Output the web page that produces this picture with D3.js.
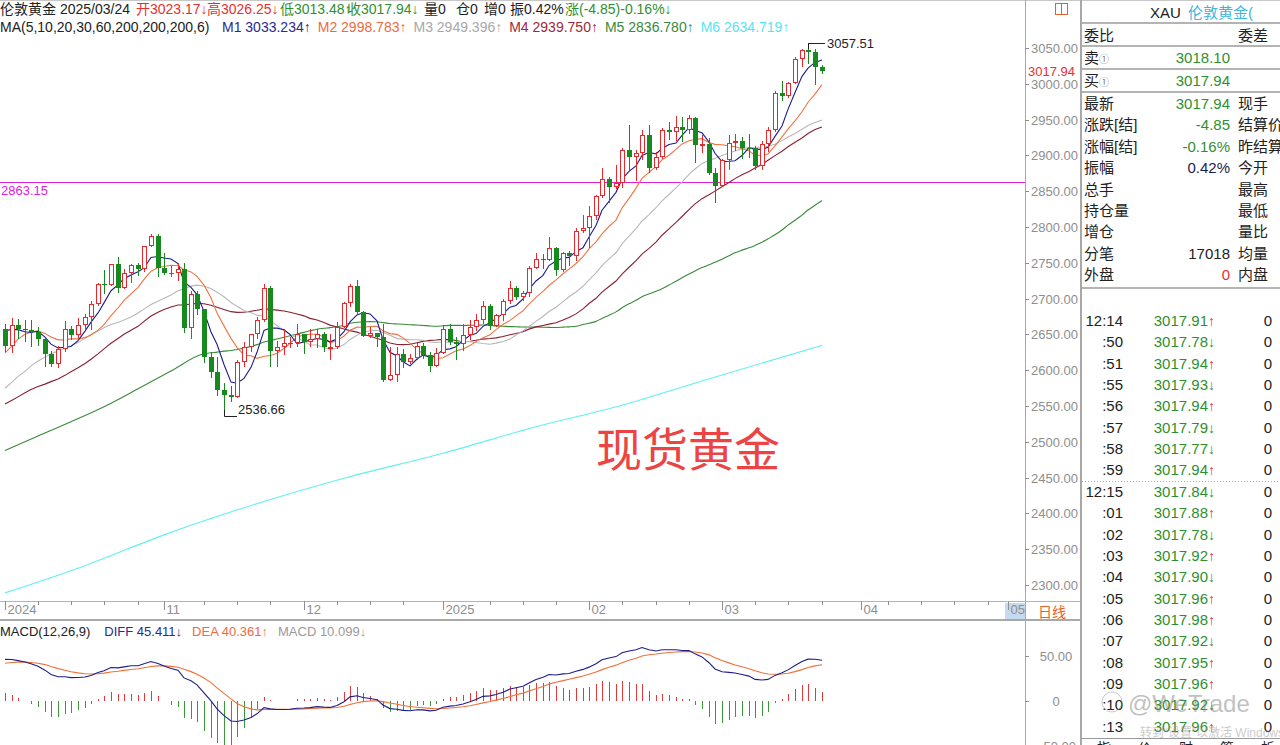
<!DOCTYPE html>
<html>
<head>
<meta charset="utf-8">
<script src="https://cdn.jsdelivr.net/npm/d3@7"></script>
<style>
  html, body { margin: 0; padding: 0; background: #fff; overflow: hidden; }
  svg { display: block; font-family: "Liberation Sans", Arial, "Noto Sans CJK SC", sans-serif; }
</style>
</head>
<body>
<svg id="chart" width="1280" height="745"></svg>
<script>
// ---- Daily bars, London gold (XAU), 2024-09-30 .. 2025-03-24 ----
const openP = [2658,2634,2663,2657,2656,2653,2643,2622,2608,2630,2657,2649,2663,2674,2693,2721,2719,2748,2715,2736,
  2747,2742,2774,2788,2743,2736,2736,2742,2659,2706,2685,2619,2598,2573,2565,2562,2611,2632,2650,2670,
  2715,2627,2632,2638,2638,2650,2640,2643,2650,2632,2633,2660,2694,2718,2681,2648,2652,2646,2586,2593,
  2622,2612,2617,2634,2621,2606,2624,2658,2640,2636,2649,2661,2670,2690,2662,2677,2696,2715,2702,2708,
  2743,2755,2754,2771,2740,2763,2760,2794,2798,2815,2843,2867,2856,2861,2907,2898,2904,2929,2882,2898,
  2935,2932,2939,2936,2951.58,2915,2916,2875,2857,2893,2918,2920,2911,2910,2885.09,2916,2935,2987,2982.66,3001,
  3034,3047.44,3044,3023.17];
const highP = [2665,2673,2672,2670,2670,2660,2645,2627,2634,2669,2662,2673,2678,2697,2722,2740,2749,2758,2741,2749,
  2750,2774,2790,2790,2763,2746,2750,2750,2711,2710,2686,2625,2618,2582,2578,2614,2639,2651,2674,2721,
  2718,2641,2657,2647,2665,2651,2657,2657,2654,2651,2667,2695,2721,2726,2683,2660,2652,2664,2632,2632,
  2629,2622,2638,2638,2626,2631,2663,2665,2646,2664,2670,2678,2697,2692,2679,2700,2725,2717,2711,2746,
  2763,2762,2786,2772,2765,2767,2799,2817,2830,2845,2882,2870,2886,2911,2942,2908,2936,2942,2905,2938,
  2947,2955,2954,2956,2953,2929,2924,2882,2895,2928,2930,2926,2930,2913,2920,2940,2990,3004,3003,3038,
  3049,3057.51,3048,3026.25];
const lowP = [2625,2624,2644,2640,2633,2634,2605,2604,2603,2625,2642,2645,2657,2656,2690,2707,2718,2708,2714,2722,
  2732,2737,2772,2730,2733,2730,2725,2652,2643,2677,2610,2589,2564,2536.66,2555,2561,2605,2625,2644,2667,
  2605,2604,2621,2631,2633,2622,2632,2631,2625,2614,2630,2659,2688,2678,2647,2645,2632,2583,2585,2583,
  2603,2608,2614,2615,2597,2605,2622,2635,2614,2627,2642,2655,2664,2656,2660,2669,2693,2698,2697,2702,
  2741,2742,2752,2731,2737,2745,2752,2791,2771,2810,2840,2834,2853,2855,2880,2864,2894,2876,2880,2895,
  2922,2920,2919,2930,2890,2903,2873,2833,2856,2880,2906,2895,2896,2880,2880,2905,2933,2976,2980,3000,
  3024,3028,2999,3013.48];
const closeP = [2634,2663,2657,2656,2653,2643,2622,2608,2630,2657,2649,2663,2674,2693,2721,2719,2748,2715,2736,2747,
  2742,2774,2788,2743,2736,2736,2742,2659,2706,2685,2619,2598,2573,2565,2562,2611,2632,2650,2670,2715,
  2627,2632,2638,2638,2650,2640,2643,2650,2632,2633,2660,2694,2718,2681,2648,2652,2646,2586,2593,2622,
  2612,2617,2634,2621,2606,2624,2658,2640,2636,2649,2661,2670,2690,2662,2677,2696,2715,2702,2708,2743,
  2755,2754,2771,2740,2763,2760,2794,2798,2815,2843,2867,2856,2861,2907,2898,2904,2929,2882,2898,2935,
  2932,2939,2936,2951.58,2915,2916,2875,2857,2893,2918,2920,2911,2910,2885.09,2916,2935,2987,2982.66,3001,3034,
  3047.44,3044,3022.79,3017.94];

// closes of the 29 sessions before the first bar (2024-08-20 .. 2024-09-27), used by the moving averages
const priorCloses = [2514,2512,2485,2512,2518,2524,2504,2521,2503,2500,2493,2495,2517,2497,2506,2516,2512,2558,2577,
  2582,2569,2559,2587,2622,2628,2657,2657,2671,2658];

// MA60 before enough history is on the page, and the MA200 line
const ma60LeadIdx = [0, 5, 10, 15, 20, 25];
const ma60LeadVal = [2488, 2508, 2528, 2549, 2574, 2599];
const ma200Idx = [0, 12, 24, 51, 66, 80, 93, 105, 123];
const ma200Val = [2289, 2327, 2370, 2449, 2484, 2521, 2551, 2585, 2634.719];

// MACD(12,26,9) state at the first bar: EMA12, EMA26, DEA
const macdSeed = [2623.3, 2577.0, 42.0];

const priceTicks = [3050,3000,2950,2900,2850,2800,2750,2700,2650,2600,2550,2500,2450,2400,2350,2300];
const macdTicks = [50, 0, -50];
const markLine = 2863.15;
const lastPrice = 3017.94;

const firstSession = new Date(2024, 8, 30);
const closedDays = ["2024-12-25", "2025-01-01"];

// header text
const headLine1 = ["伦敦黄金 2025/03/24", "开3023.17↓", "高3026.25↓", "低3013.48↑", "收3017.94↓", "量0", "仓0", "增0", "振0.42%", "涨(-4.85)-0.16%↓"];
const headLine2 = ["MA(5,10,20,30,60,200,200,200,6)", "M1 3033.234↑", "M2 2998.783↑", "M3 2949.396↑", "M4 2939.750↑", "M5 2836.780↑", "M6 2634.719↑"];
const macdHead = ["MACD(12,26,9)", "DIFF 45.411↓", "DEA 40.361↑", "MACD 10.099↓"];

// quote panel
const quoteLabels = ["最新", "涨跌[结]", "涨幅[结]", "振幅", "总手", "持仓量", "增仓", "分笔", "外盘"];
const quoteValues = ["3017.94", "-4.85", "-0.16%", "0.42%", "", "", "", "17018", "0"];
const quoteRight = ["现手", "结算价", "昨结算", "今开", "最高", "最低", "量比", "均量", "内盘"];
const askBid = [["卖", "3018.10"], ["买", "3017.94"]];
const tickTimes = ["12:14", ":50", ":51", ":55", ":56", ":57", ":58", ":59", "12:15", ":01", ":02", ":03", ":04", ":05", ":06", ":07", ":08", ":09", ":10", ":13"];
const tickPrices = [3017.91, 3017.78, 3017.94, 3017.93, 3017.94, 3017.79, 3017.77, 3017.94, 3017.84, 3017.88, 3017.78, 3017.92, 3017.90, 3017.96, 3017.98, 3017.92, 3017.95, 3017.96, 3017.92, 3017.96];
const tickDirs = ["↑", "↓", "↑", "↓", "↑", "↓", "↓", "↑", "↓", "↑", "↓", "↑", "↓", "↑", "↑", "↓", "↑", "↑", "↓", "↑"];
const tickVols = [0, 0, 0, 0, 0, 0, 0, 0, 0, 0, 0, 0, 0, 0, 0, 0, 0, 0, 0, 0];

// ---- colours ----
const C = {
  up: "#e8282c", down: "#168a1e", redText: "#e83030", greenText: "#2f8f2f", ink: "#222",
  ma5: "#1c1c8c", ma10: "#f07444", ma20: "#b8b8b8", ma30: "#8a1f30", ma60: "#3a8a3a", ma200: "#5ff0f2",
  magenta: "#e020e0", axis: "#8e8e8e", frame: "#a8a8a8", diff: "#1e1e88", dea: "#f07038"
};

const svg = d3.select("#chart");
const PR = 1025, PB = 601;  // price panel right / bottom edge

// ---- scales ----
const nBars = closeP.length;
const x = d3.scaleLinear().domain([0, nBars - 1]).range([4.9, 821.6]).interpolate(d3.interpolateRound);
const y = d3.scaleLinear().domain([2300, 3050]).range([585, 48]);
const yR = y.copy().interpolate(d3.interpolateRound);
const ym = d3.scaleLinear().domain([-50, 50]).range([746, 656]);
const ymR = ym.copy().interpolate(d3.interpolateRound);

// trading calendar (bars plus the empty future area)
const dayKey = d3.timeFormat("%Y-%m-%d");
const dates = [];
for (let d = new Date(firstSession); dates.length < 160; d = d3.timeDay.offset(d, 1)) {
  const wd = d.getDay();
  if (wd === 0 || wd === 6) continue;
  if (closedDays.includes(dayKey(d))) continue;
  dates.push(new Date(d));
}
const visibleIdx = d3.range(dates.length).filter(i => x(i) < PR - 2);
const monthStarts = visibleIdx.filter(i => i > 0 && dates[i].getMonth() !== dates[i - 1].getMonth());
const monthIdx = [0].concat(monthStarts.filter(i => i > 2));
const weekIdx = visibleIdx.filter(i => dates[i].getDay() === 1 && !monthIdx.some(m => Math.abs(m - i) <= 2));

// ---- clip paths ----
const defs = svg.append("defs");
defs.append("clipPath").attr("id", "clipMain").append("rect").attr("x", 0).attr("y", 38).attr("width", PR).attr("height", PB - 38);
defs.append("clipPath").attr("id", "clipMacd").append("rect").attr("x", 0).attr("y", 640).attr("width", PR).attr("height", 105);

// ---- frame ----
const frame = svg.append("g").attr("stroke", C.frame).attr("fill", "none");
frame.append("line").attr("x1", 0).attr("x2", 1280).attr("y1", 0.5).attr("y2", 0.5).attr("stroke", "#c8c8c8");
frame.append("line").attr("x1", PR + 0.5).attr("x2", PR + 0.5).attr("y1", 0).attr("y2", 745);
frame.append("line").attr("x1", 0).attr("x2", 1080).attr("y1", PB + 0.5).attr("y2", PB + 0.5).attr("stroke", "#b4b4b4");
frame.append("line").attr("x1", 0).attr("x2", 1080).attr("y1", 620).attr("y2", 620).attr("stroke-width", 2);
frame.append("line").attr("x1", 1081).attr("x2", 1081).attr("y1", 0).attr("y2", 745).attr("stroke-width", 2);

// ---- header ----
// place text pieces one after another on a line
function flowText(parent, pieces, colors, x0, yBase, size, gaps) {
  let cx = x0;
  pieces.forEach((t, i) => {
    const el = parent.append("text").attr("x", cx).attr("y", yBase).attr("font-size", size).attr("fill", colors[i]).text(t);
    cx += el.node().getComputedTextLength() + gaps[i];
  });
}
const hdr = svg.append("g");
const headX1 = [0, 136, 207, 280, 347, 424, 456, 484, 510, 565];
const headC1 = [C.ink, C.redText, C.redText, C.greenText, C.greenText, C.ink, C.ink, C.ink, C.ink, C.greenText];
hdr.selectAll("text.h1").data(headLine1).join("text").attr("class", "h1")
  .attr("x", (d, i) => headX1[i]).attr("y", 14).attr("font-size", 14)
  .attr("fill", (d, i) => headC1[i]).text(d => d);
const headC2 = [C.ink, "#2a2a90", "#ee6a40", "#a8a8a8", "#a02838", "#3a8a3a", "#58e4f0"];
hdr.append("text").attr("x", 0).attr("y", 32).attr("font-size", 14).attr("fill", headC2[0]).text(headLine2[0]);
flowText(hdr, headLine2.slice(1), headC2.slice(1), 222, 32, 14, [7, 7, 7, 7, 7, 0]);

// ---- price panel ----
const main = svg.append("g").attr("clip-path", "url(#clipMain)");

// horizontal reference line
main.append("line")
  .attr("x1", 0).attr("x2", PR).attr("y1", yR(markLine) + 0.5).attr("y2", yR(markLine) + 0.5)
  .attr("stroke", C.magenta).attr("stroke-width", 1);
svg.append("text").attr("x", 1).attr("y", yR(markLine) + 13).attr("font-size", 13)
  .attr("fill", C.magenta).text(d3.format(".2f")(markLine));

// moving averages
const allCloses = priorCloses.concat(closeP);
const off = priorCloses.length;
const sma = (n, i) => d3.mean(allCloses.slice(i + off - n + 1, i + off + 1));
const maLine = d3.line().x(d => x(d[0])).y(d => y(d[1]));
const maSmooth = d3.line().x(d => x(d[0])).y(d => y(d[1])).curve(d3.curveMonotoneX);

const ma200Pts = ma200Idx.map((i, j) => [i, ma200Val[j]]);
const ma60Pts = ma60LeadIdx.map((i, j) => [i, ma60LeadVal[j]])
  .concat(d3.range(30, nBars).map(i => [i, sma(60, i)]));
const maSeries = [
  { pts: ma200Pts, color: C.ma200, gen: maSmooth },
  { pts: ma60Pts, color: C.ma60, gen: maSmooth },
  { pts: d3.range(nBars).map(i => [i, sma(30, i)]), color: C.ma30, gen: maLine },
  { pts: d3.range(nBars).map(i => [i, sma(20, i)]), color: C.ma20, gen: maLine },
  { pts: d3.range(nBars).map(i => [i, sma(10, i)]), color: C.ma10, gen: maLine },
  { pts: d3.range(nBars).map(i => [i, sma(5, i)]), color: C.ma5, gen: maLine }
];
main.append("g").selectAll("path").data(maSeries).join("path")
  .attr("d", s => s.gen(s.pts)).attr("fill", "none")
  .attr("stroke", s => s.color).attr("stroke-width", 1.1);

// candles: rising = hollow red, falling = solid green
const kg = main.append("g");
d3.range(nBars).forEach(i => {
  const o = openP[i], c = closeP[i];
  const cx = x(i);
  const yo = yR(o), yc = yR(c), yh = yR(highP[i]), yl = yR(lowP[i]);
  const g = kg.append("g");
  if (c > o) {
    g.append("line").attr("x1", cx + 0.5).attr("x2", cx + 0.5).attr("y1", yh).attr("y2", yc).attr("stroke", C.up);
    g.append("line").attr("x1", cx + 0.5).attr("x2", cx + 0.5).attr("y1", yo).attr("y2", yl).attr("stroke", C.up);
    g.append("rect").attr("x", cx - 1.5).attr("y", yc + 0.5).attr("width", 4).attr("height", Math.max(yo - yc - 1, 1))
      .attr("fill", "#fff").attr("stroke", C.up);
  } else if (c < o) {
    g.append("line").attr("x1", cx + 0.5).attr("x2", cx + 0.5).attr("y1", yh).attr("y2", yl).attr("stroke", C.down);
    g.append("rect").attr("x", cx - 2).attr("y", yo).attr("width", 5).attr("height", Math.max(yc - yo, 1)).attr("fill", C.down);
  } else {
    g.append("line").attr("x1", cx + 0.5).attr("x2", cx + 0.5).attr("y1", yh).attr("y2", yl).attr("stroke", C.up);
    g.append("line").attr("x1", cx - 2).attr("x2", cx + 3).attr("y1", yo + 0.5).attr("y2", yo + 0.5).attr("stroke", C.up);
  }
});

// extreme marks
const hiIdx = d3.maxIndex(highP), loIdx = d3.minIndex(lowP);
const ann = svg.append("g").attr("stroke", "#222").attr("fill", "none");
ann.append("polyline").attr("points", [[x(hiIdx) + 0.5, yR(highP[hiIdx]) + 6], [x(hiIdx) + 0.5, yR(highP[hiIdx]) + 0.5], [x(hiIdx) + 17, yR(highP[hiIdx]) + 0.5]].join(" "));
ann.append("polyline").attr("points", [[x(loIdx) + 0.5, yR(lowP[loIdx]) - 6], [x(loIdx) + 0.5, yR(lowP[loIdx]) + 0.5], [x(loIdx) + 13, yR(lowP[loIdx]) + 0.5]].join(" "));
svg.append("text").attr("x", x(hiIdx) + 19).attr("y", yR(highP[hiIdx]) + 5).attr("font-size", 13).attr("fill", "#222")
  .text(d3.format(".2f")(highP[hiIdx]));
svg.append("text").attr("x", x(loIdx) + 14).attr("y", yR(lowP[loIdx]) - 2).attr("font-size", 13).attr("fill", "#222")
  .text(d3.format(".2f")(lowP[loIdx]));

// big caption
svg.append("text").attr("x", 596).attr("y", 466).attr("font-size", 46)
  .attr("font-family", "'Noto Sans CJK SC', sans-serif").attr("fill", "#ec4444").text("现货黄金");

// price axis
const yAxis = svg.append("g").attr("transform", `translate(${PR},0)`)
  .call(d3.axisRight(yR).tickValues(priceTicks).tickSize(4).tickFormat(d3.format(".2f")));
yAxis.select(".domain").remove();
yAxis.selectAll("line").attr("stroke", C.axis);
yAxis.selectAll("text").attr("fill", C.axis).attr("font-size", 13).attr("x", 6)
  .attr("font-family", "'Liberation Sans', Arial, sans-serif");
svg.append("text").attr("x", 1028).attr("y", yR(lastPrice) + 5).attr("font-size", 13).attr("fill", C.redText)
  .text(d3.format(".2f")(lastPrice));
// small split-window icon
svg.append("rect").attr("x", 1055.5).attr("y", 3.5).attr("width", 12).attr("height", 11).attr("fill", "none").attr("stroke", "#e06030");
svg.append("line").attr("x1", 1061.5).attr("x2", 1061.5).attr("y1", 3.5).attr("y2", 14.5).attr("stroke", "#e06030");

// ---- date axis ----
const may = monthIdx[monthIdx.length - 1];
svg.append("rect").attr("x", x(may) - 3).attr("y", 603).attr("width", PR - x(may) + 3).attr("height", 16).attr("fill", "#c6daef");
const monthLabel = i => (i === 0 || dates[i].getMonth() === 0) ? d3.timeFormat("%Y")(dates[i]) : d3.timeFormat("%m")(dates[i]);
const xAxisMajor = svg.append("g").attr("transform", `translate(0,${PB})`)
  .call(d3.axisBottom(x).tickValues(monthIdx).tickSize(9).tickFormat(monthLabel));
xAxisMajor.select(".domain").remove();
xAxisMajor.selectAll("line").attr("stroke", C.axis);
xAxisMajor.selectAll("text").attr("fill", C.axis).attr("font-size", 13).attr("x", 2).attr("y", 4)
  .attr("text-anchor", "start").attr("font-family", "'Liberation Sans', Arial, sans-serif");
const xAxisMinor = svg.append("g").attr("transform", `translate(0,${PB})`)
  .call(d3.axisBottom(x).tickValues(weekIdx).tickSize(4).tickFormat(""));
xAxisMinor.select(".domain").remove();
xAxisMinor.selectAll("text").remove();
xAxisMinor.selectAll("line").attr("stroke", C.axis);
svg.append("text").attr("x", 1038).attr("y", 617).attr("font-size", 14).attr("fill", "#e8602c").text("日线");

// ---- MACD panel ----
const diffS = [], deaS = [], histS = [];
let e12 = macdSeed[0], e26 = macdSeed[1], dea = macdSeed[2];
closeP.forEach((c, i) => {
  if (i > 0) { e12 = (2 * c + 11 * e12) / 13; e26 = (2 * c + 25 * e26) / 27; }
  const dif = e12 - e26;
  if (i > 0) dea = (2 * dif + 8 * dea) / 10;
  diffS.push(dif); deaS.push(dea); histS.push(2 * (dif - dea));
});
const macdG = svg.append("g").attr("clip-path", "url(#clipMacd)");
macdG.append("g").selectAll("line").data(histS).join("line")
  .attr("x1", (d, i) => x(i) + 0.5).attr("x2", (d, i) => x(i) + 0.5)
  .attr("y1", ymR(0)).attr("y2", d => ymR(d))
  .attr("stroke", d => d >= 0 ? "#e03a3a" : "#3a9a3a");
const mline = d3.line().x((d, i) => x(i)).y(d => ym(d));
macdG.append("path").attr("d", mline(deaS)).attr("fill", "none").attr("stroke", C.dea).attr("stroke-width", 1.1);
macdG.append("path").attr("d", mline(diffS)).attr("fill", "none").attr("stroke", C.diff).attr("stroke-width", 1.1);

const macdC = [C.ink, "#2a2a90", "#ee6a40", "#9a9a9a"];
flowText(svg.append("g"), macdHead, macdC, 0, 636, 13, [14, 10, 10, 0]);

const mAxis = svg.append("g").attr("transform", `translate(${PR},0)`)
  .call(d3.axisRight(ymR).tickValues(macdTicks).tickSize(4).tickFormat(d => d === 0 ? "0" : d3.format(".2f")(d)));
mAxis.select(".domain").remove();
mAxis.selectAll("line").attr("stroke", C.axis);
mAxis.selectAll("text").attr("fill", C.axis).attr("font-size", 13).attr("x", 31).attr("text-anchor", "middle")
  .attr("font-family", "'Liberation Sans', Arial, sans-serif");

// ---- quote panel ----
const qp = svg.append("g").attr("font-size", 15);
qp.append("text").attr("x", 1150).attr("y", 18).attr("fill", C.ink).text("XAU");
qp.append("text").attr("x", 1188).attr("y", 18).attr("fill", "#3cb6de").text("伦敦黄金(");
[23, 46, 69, 92, 288].forEach(yy => qp.append("line").attr("x1", 1082).attr("x2", 1280).attr("y1", yy).attr("y2", yy)
  .attr("stroke", "#b4b4b4").attr("stroke-width", 2));
qp.append("text").attr("x", 1084).attr("y", 41).attr("fill", C.ink).text("委比");
qp.append("text").attr("x", 1238).attr("y", 41).attr("fill", C.ink).text("委差");
askBid.forEach((r, k) => {
  const yy = 63 + k * 23;
  const t = qp.append("text").attr("x", 1084).attr("y", yy).attr("fill", C.ink);
  t.append("tspan").text(r[0]);
  t.append("tspan").attr("font-size", 10).attr("fill", "#777").text("①");
  qp.append("text").attr("x", 1230).attr("y", yy).attr("text-anchor", "end").attr("fill", C.greenText).text(r[1]);
});
const quoteCol = k => k < 3 ? C.greenText : (k === 8 ? C.redText : (k === 3 ? "#1c1c50" : C.ink));
quoteLabels.forEach((lab, k) => {
  const yy = 109 + k * 21.4;
  qp.append("text").attr("x", 1084).attr("y", yy).attr("fill", C.ink).text(lab);
  qp.append("text").attr("x", 1230).attr("y", yy).attr("text-anchor", "end").attr("fill", quoteCol(k)).text(quoteValues[k]);
  qp.append("text").attr("x", 1238).attr("y", yy).attr("fill", C.ink).text(quoteRight[k]);
});
tickTimes.forEach((t, k) => {
  const yy = 326 + k * 21.35;
  qp.append("text").attr("x", 1123).attr("y", yy).attr("text-anchor", "end").attr("fill", C.ink).text(t);
  qp.append("text").attr("x", 1208).attr("y", yy).attr("text-anchor", "end").attr("fill", C.greenText).text(d3.format(".2f")(tickPrices[k]));
  qp.append("text").attr("x", 1208).attr("y", yy).attr("fill", tickDirs[k] === "↑" ? C.redText : C.greenText).attr("font-size", 14).text(tickDirs[k]);
  qp.append("text").attr("x", 1272).attr("y", yy).attr("text-anchor", "end").attr("fill", C.ink).text(tickVols[k]);
});
qp.append("line").attr("x1", 1082).attr("x2", 1280).attr("y1", 481.5).attr("y2", 481.5)
  .attr("stroke", "#aaa").attr("stroke-dasharray", "1,2");
// tab strip at the bottom
qp.append("line").attr("x1", 1082).attr("x2", 1280).attr("y1", 738.5).attr("y2", 738.5).attr("stroke", "#999");
["指", "价", "财", "筹", "析"].forEach((t, k) => qp.append("text").attr("x", 1097 + k * 41).attr("y", 753)
  .attr("font-size", 14).attr("fill", C.ink).text(t));

// faint overlay marks
svg.append("circle").attr("cx", 1112).attr("cy", 702).attr("r", 10).attr("fill", "none").attr("stroke", "#888").attr("opacity", 0.45);
svg.append("text").attr("x", 1128).attr("y", 712).attr("font-size", 24).attr("fill", "#777").attr("opacity", 0.45).text("@WeTrade");
svg.append("text").attr("x", 1140).attr("y", 737).attr("font-size", 12).attr("fill", "#999").attr("opacity", 0.5).text("转到“设置”以激活 Windows");
</script>
</body>
</html>
